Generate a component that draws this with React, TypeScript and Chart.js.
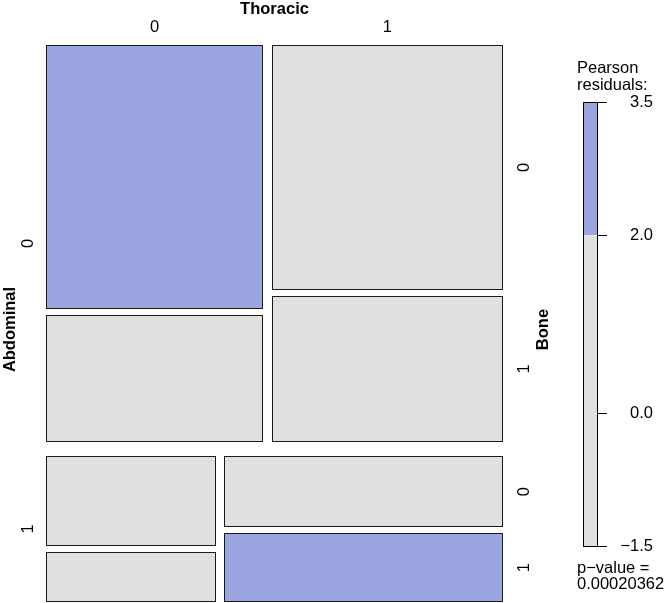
import React, { useEffect, useRef } from "react";
import { Chart, registerables } from "chart.js";

Chart.register(...registerables);

// Variables and levels (Abdominal → Thoracic → Bone split order)
const abdominalLevels = ["0", "1"];
const thoracicLevels = ["0", "1"];
const boneLevels = ["0", "1"];

// Cell counts in order (Abdominal, Thoracic, Bone):
// 000, 001, 010, 011, 100, 101, 110, 111
const counts = [73, 35, 72, 43, 20, 11, 26, 25];
// Estimated Pearson residuals per cell (same order)
const residuals = [3.3, -0.9, -1.2, -0.4, -0.6, -1.4, 0.3, 2.6];

// Legend ticks
const legendTicks = [-1.5, 0.0, 2.0, 3.5];
const pValueText = "0.00020362";

const BLUE = "#9ba6e0";
const GRAY = "#e0e0e0";
const RED = "#e0a0a0";
const FONT = "'Liberation Sans', Arial, Helvetica, sans-serif";

const GAP_A = 0.025; // between Abdominal rows (y)
const GAP_T = 0.018; // between Thoracic columns (x)
const GAP_B = 0.011; // between Bone rows (y)

type Cell = { a: number; t: number; b: number; x0: number; x1: number; y0: number; y1: number; n: number; r: number };

function layout(): Cell[] {
  const cells: Cell[] = [];
  const idx = (a: number, t: number, b: number) => a * 4 + t * 2 + b;
  const total = counts.reduce((s, v) => s + v, 0);
  let yA = 0;
  for (let a = 0; a < 2; a++) {
    const nA = counts.slice(a * 4, a * 4 + 4).reduce((s, v) => s + v, 0);
    const hA = ((1 - GAP_A) * nA) / total;
    let xT = 0;
    for (let t = 0; t < 2; t++) {
      const nT = counts[idx(a, t, 0)] + counts[idx(a, t, 1)];
      const wT = ((1 - GAP_T) * nT) / nA;
      let yB = yA;
      for (let b = 0; b < 2; b++) {
        const n = counts[idx(a, t, b)];
        const hB = ((hA - GAP_B) * n) / nT;
        cells.push({ a, t, b, x0: xT, x1: xT + wT, y0: yB, y1: yB + hB, n, r: residuals[idx(a, t, b)] });
        yB += hB + GAP_B;
      }
      xT += wT + GAP_T;
    }
    yA += hA + GAP_A;
  }
  return cells;
}

const mosaicPlugin = {
  id: "mosaic",
  afterDraw(chart: any) {
    const { ctx } = chart;
    const xs = chart.scales.x;
    const ys = chart.scales.y;
    const cells = layout();
    ctx.save();
    // cells
    for (const c of cells) {
      const px0 = Math.round(xs.getPixelForValue(c.x0));
      const px1 = Math.round(xs.getPixelForValue(c.x1));
      const py0 = Math.round(ys.getPixelForValue(c.y0));
      const py1 = Math.round(ys.getPixelForValue(c.y1));
      ctx.fillStyle = c.r > 2 ? BLUE : c.r < -2 ? RED : GRAY;
      ctx.fillRect(px0, py0, px1 - px0, py1 - py0);
      ctx.strokeStyle = "#1a1a1a";
      ctx.lineWidth = 1;
      ctx.strokeRect(px0 + 0.5, py0 + 0.5, px1 - px0 - 1, py1 - py0 - 1);
    }

    const left = xs.getPixelForValue(0);
    const right = xs.getPixelForValue(1);
    const top = ys.getPixelForValue(0);
    const bottom = ys.getPixelForValue(1);

    // Top: Thoracic labels (centered on Abdominal=0 row columns)
    ctx.fillStyle = "#000";
    ctx.textAlign = "center";
    ctx.textBaseline = "middle";
    ctx.font = `bold 16.5px ${FONT}`;
    ctx.fillText("Thoracic", (left + right) / 2, 9);
    ctx.font = `16.5px ${FONT}`;
    for (let t = 0; t < 2; t++) {
      const c = cells.find((k) => k.a === 0 && k.t === t)!;
      const cx = (xs.getPixelForValue(c.x0) + xs.getPixelForValue(c.x1)) / 2;
      ctx.fillText(thoracicLevels[t], cx, 27);
    }

    const vtext = (txt: string, x: number, y: number, bold: boolean) => {
      ctx.save();
      ctx.translate(x, y);
      ctx.rotate(-Math.PI / 2);
      ctx.font = `${bold ? "bold " : ""}16.5px ${FONT}`;
      ctx.textAlign = "center";
      ctx.textBaseline = "middle";
      ctx.fillText(txt, 0, 0);
      ctx.restore();
    };

    // Left: Abdominal
    vtext("Abdominal", 10, (top + bottom) / 2 + 6, true);
    for (let a = 0; a < 2; a++) {
      const rows = cells.filter((k) => k.a === a);
      const y0 = Math.min(...rows.map((k) => k.y0));
      const y1 = Math.max(...rows.map((k) => k.y1));
      vtext(abdominalLevels[a], 28, (ys.getPixelForValue(y0) + ys.getPixelForValue(y1)) / 2, false);
    }

    // Right: Bone (labels follow Thoracic=1 column)
    vtext("Bone", 543, (top + bottom) / 2 + 6, true);
    for (const c of cells.filter((k) => k.t === 1)) {
      vtext(boneLevels[c.b], 524, (ys.getPixelForValue(c.y0) + ys.getPixelForValue(c.y1)) / 2, false);
    }

    // Legend
    const lx0 = 583, lx1 = 597, lTop = 102, lBot = 546;
    const rMin = legendTicks[0], rMax = legendTicks[legendTicks.length - 1];
    const ly = (v: number) => lTop + ((rMax - v) / (rMax - rMin)) * (lBot - lTop);
    ctx.fillStyle = BLUE;
    ctx.fillRect(lx0, ly(rMax), lx1 - lx0, ly(2) - ly(rMax));
    ctx.fillStyle = GRAY;
    ctx.fillRect(lx0, ly(2), lx1 - lx0, ly(rMin) - ly(2));
    ctx.strokeStyle = "#000";
    ctx.lineWidth = 1;
    ctx.strokeRect(lx0 + 0.5, lTop + 0.5, lx1 - lx0, lBot - lTop);
    ctx.font = `16.5px ${FONT}`;
    ctx.textAlign = "right";
    ctx.textBaseline = "middle";
    ctx.fillStyle = "#000";
    for (const v of legendTicks) {
      const yy = Math.round(ly(v)) + 0.5;
      ctx.beginPath();
      ctx.moveTo(lx1, yy);
      ctx.lineTo(lx1 + 10, yy);
      ctx.stroke();
      const label = v.toFixed(1).replace("-", "\u2212");
      ctx.fillText(label, 653, yy);
    }
    ctx.textAlign = "left";
    ctx.fillText("Pearson", 577, 68);
    ctx.fillText("residuals:", 577, 85);
    ctx.fillText("p\u2212value =", 577, 568);
    ctx.fillText(pValueText, 577, 584);
    ctx.restore();
  },
};

export default function App() {
  const ref = useRef<HTMLCanvasElement>(null);
  useEffect(() => {
    if (!ref.current) return;
    const cells = layout();
    const chart = new Chart(ref.current, {
      type: "scatter",
      data: {
        datasets: [
          {
            label: "cells",
            data: cells.map((c) => ({ x: (c.x0 + c.x1) / 2, y: (c.y0 + c.y1) / 2 })),
            pointRadius: 0,
            pointHoverRadius: 0,
          },
        ],
      },
      options: {
        responsive: false,
        animation: false,
        layout: { padding: { left: 46, top: 45, right: 161, bottom: 1 } },
        plugins: { legend: { display: false }, tooltip: { enabled: false } },
        scales: {
          x: { type: "linear", min: 0, max: 1, display: false },
          y: { type: "linear", min: 0, max: 1, reverse: true, display: false },
        },
      },
      plugins: [mosaicPlugin],
    });
    return () => chart.destroy();
  }, []);
  return (
    <div style={{ position: "absolute", left: 0, top: 0, width: 664, height: 603, background: "#fff" }}>
      <canvas ref={ref} width={664} height={603} style={{ width: 664, height: 603 }} />
    </div>
  );
}
